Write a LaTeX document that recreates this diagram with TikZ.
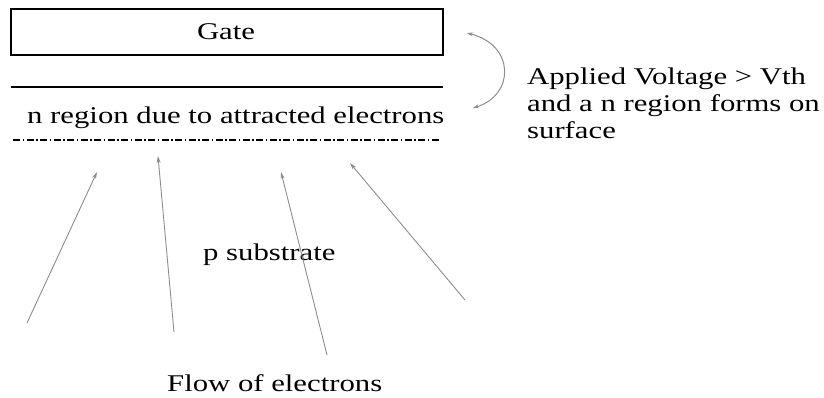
\documentclass[tikz,border=0pt]{standalone}
\usepackage{fontspec}
\setmainfont{Liberation Serif}[FakeStretch=1.28]
\usetikzlibrary{arrows.meta}
\begin{document}
\begin{tikzpicture}[x=1pt,y=-1pt,
  lbl/.style={inner sep=0pt,font=\fontsize{24}{27}\selectfont,anchor=base west},
  layer/.style={line width=1.6pt},
  flow/.style={draw=black!45,line width=0.9pt,-{Stealth[length=7pt,width=4pt]}},
  turn/.style={draw=black!45,line width=1pt,{Stealth[length=6pt,width=4pt]}-{Stealth[length=6pt,width=4pt]}}]
\useasboundingbox (0,0) rectangle (824,397);
% gate electrode
\node[draw,layer,minimum width=432pt,minimum height=46pt,inner sep=0pt] (gate) at (227,32) {};
\node[lbl,anchor=base] (gatetxt) at (226,39) {Gate};
% oxide / surface boundary
\coordinate (ox1) at (11,87);
\coordinate (ox2) at (443,87);
\draw[layer] (ox1) -- (ox2);
% induced channel
\node[lbl] (nreg) at (27,123) {n region due to attracted electrons};
\coordinate (ch1) at (13,140);
\coordinate (ch2) at (440,140);
\draw[line width=1.3pt,dash pattern=on 7pt off 2.5pt on 1.5pt off 2.5pt] (ch1) -- (ch2);
% applied voltage note
\coordinate (vt) at (467,33);
\coordinate (vb) at (473,108);
\draw[turn] (vt) .. controls (515,45) and (515,95) .. (vb);
\node[lbl,align=left] (note) at (527,138) {Applied Voltage > Vth\\and a n region forms on\\surface};
% substrate
\node[lbl] (sub) at (203,260) {p substrate};
\node[lbl] (flowtxt) at (167,391) {Flow of electrons};
% electron flow arrows
\coordinate (a1s) at (27,323);   \coordinate (a1e) at (97,172);
\coordinate (a2s) at (174,332);  \coordinate (a2e) at (158,156);
\coordinate (a3s) at (327,355);  \coordinate (a3e) at (281,172);
\coordinate (a4s) at (465,300);  \coordinate (a4e) at (350,163);
\draw[flow] (a1s) -- (a1e);
\draw[flow] (a2s) -- (a2e);
\draw[flow] (a3s) -- (a3e);
\draw[flow] (a4s) -- (a4e);
\end{tikzpicture}
\end{document}
